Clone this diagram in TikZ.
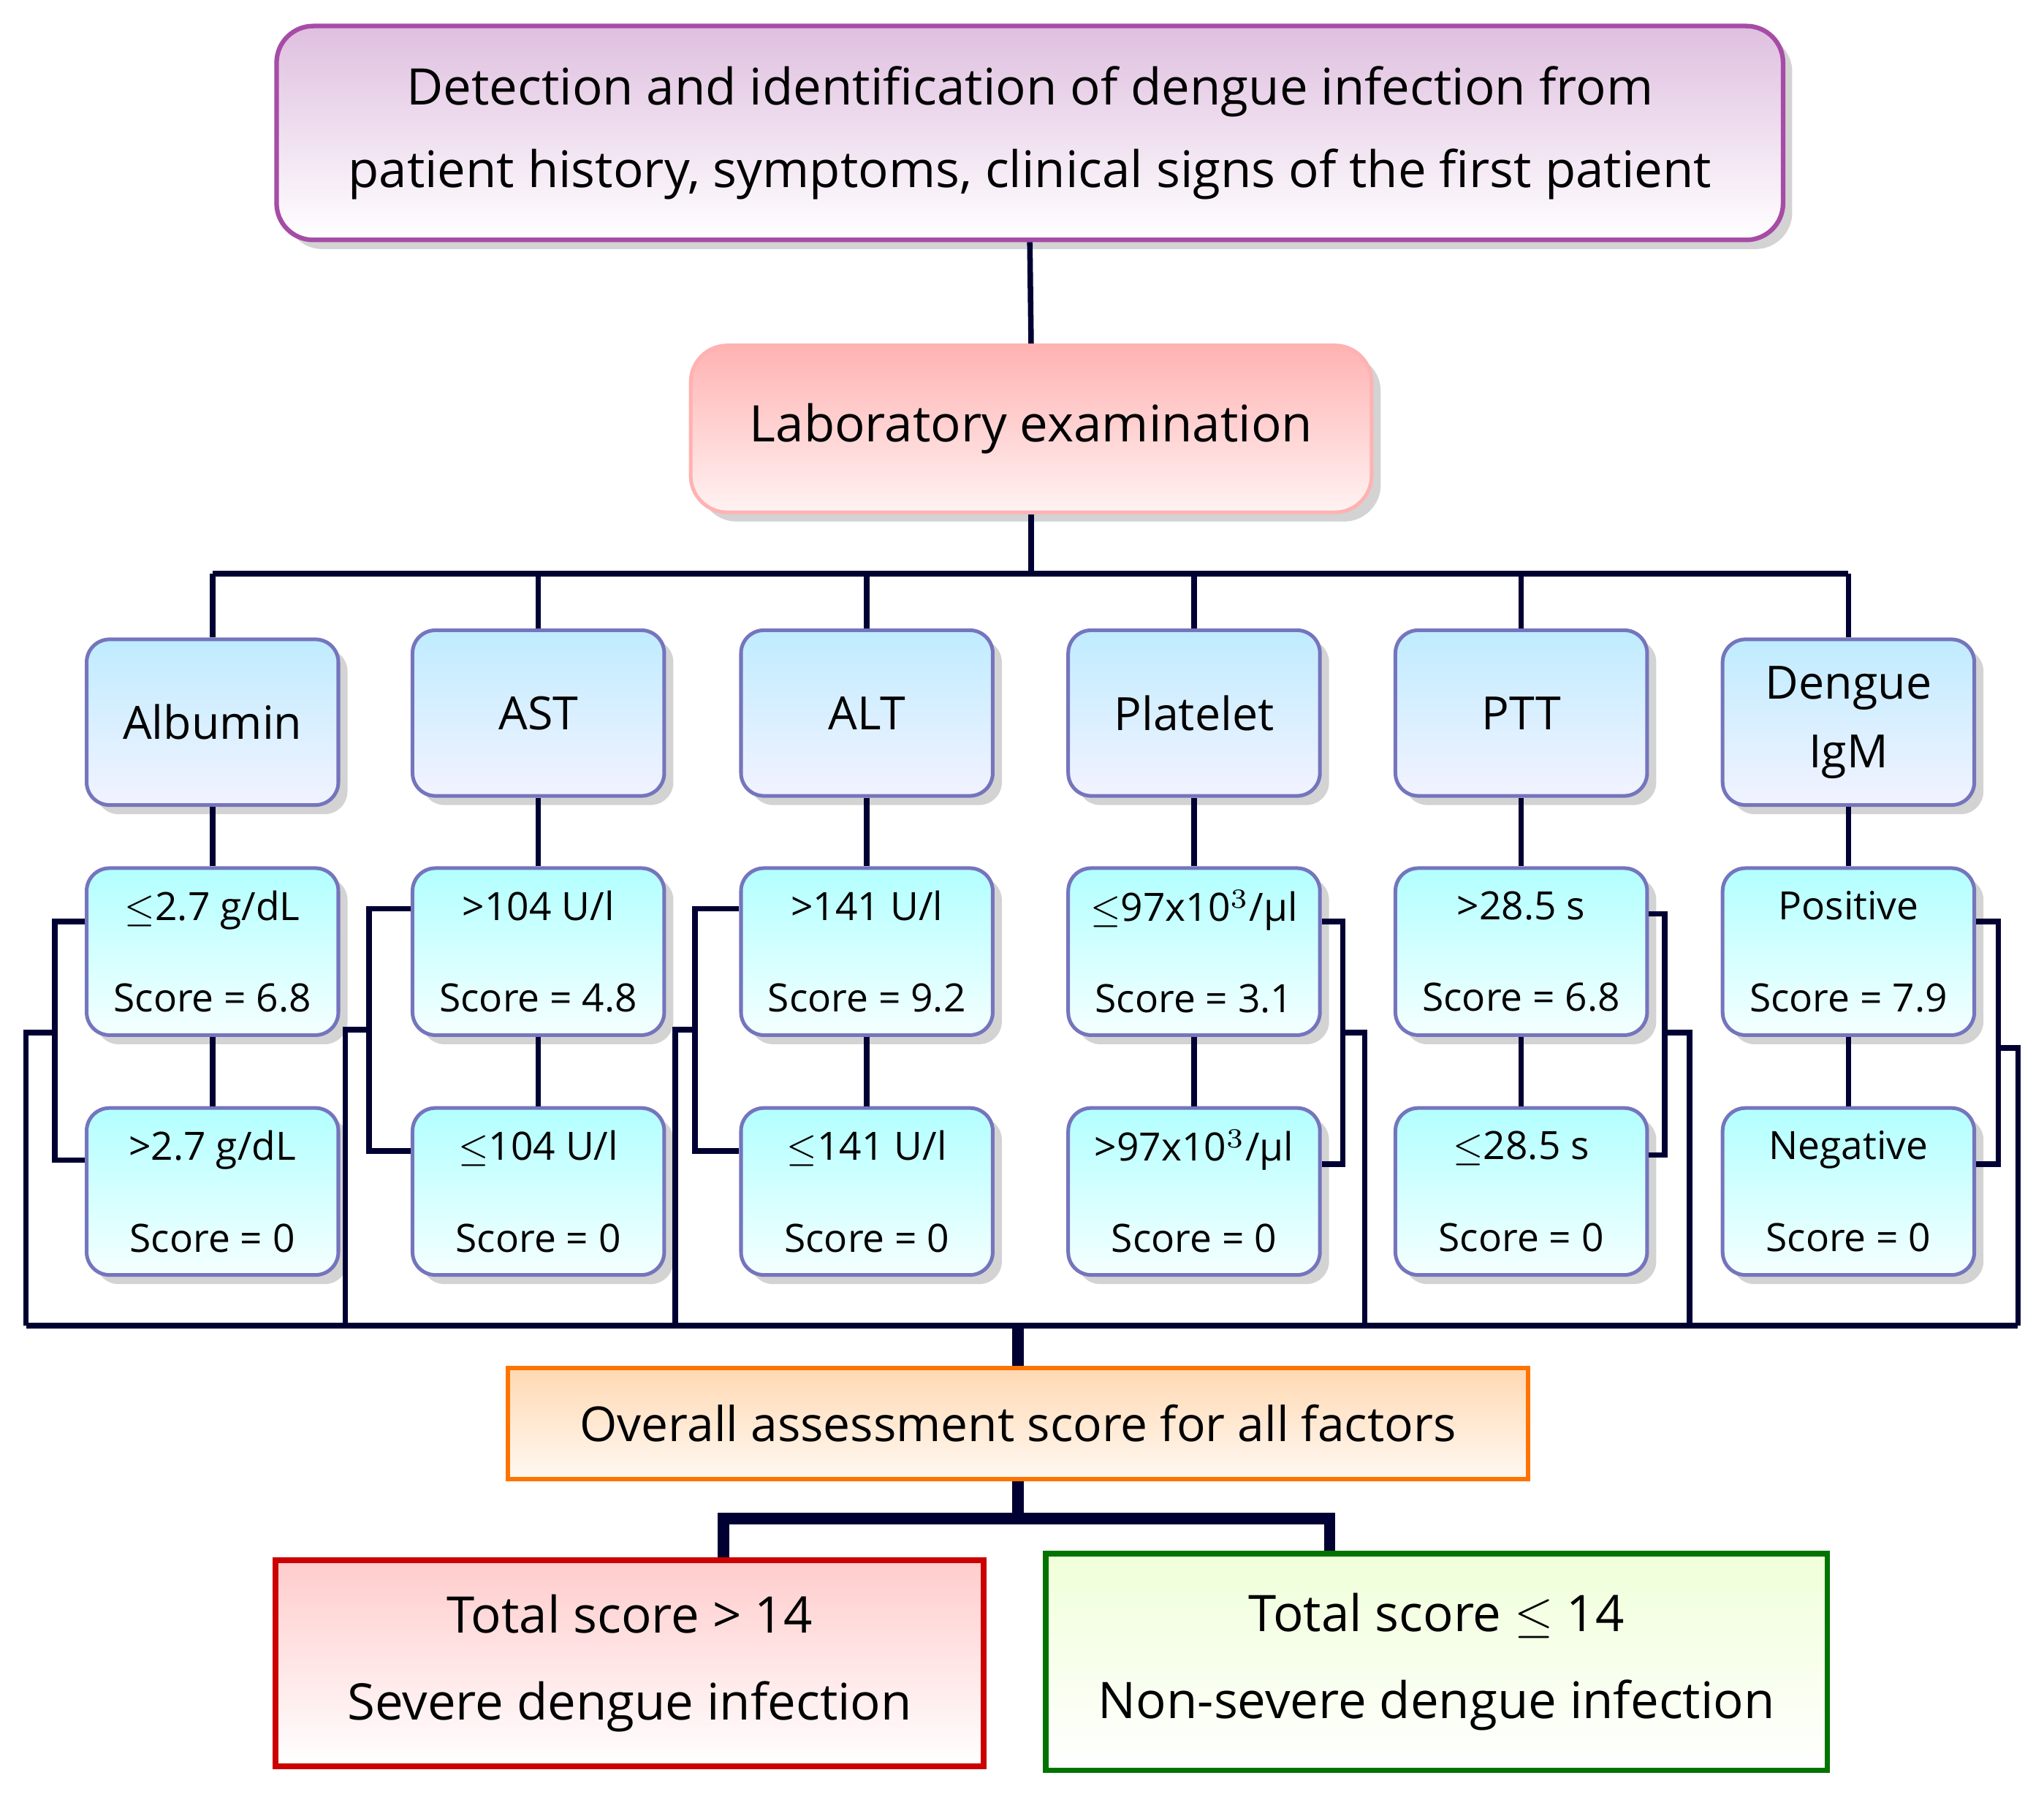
\documentclass[tikz,border=0pt]{standalone}
\usepackage{fontspec}
\setmainfont{Open Sans}
\usetikzlibrary{shadows}
\begin{document}
\begin{tikzpicture}[x=0.01cm,y=-0.01cm,
 ln/.style={draw=black!80!blue,line width=1.2pt},
 sh/.style={drop shadow={shadow xshift=2pt,shadow yshift=-2pt,opacity=0.35}},
 cat/.style={draw=blue!35!gray!80,line width=0.8pt,rounded corners=5pt,top color=blue!30!cyan!25,bottom color=blue!5,sh,minimum width=1.93cm,minimum height=1.27cm,font=\fontsize{10}{15}\selectfont,align=center,inner sep=0pt},
 val/.style={draw=blue!35!gray!80,line width=0.8pt,rounded corners=5pt,top color=cyan!30,bottom color=cyan!4,sh,minimum width=1.93cm,minimum height=1.28cm,font=\fontsize{8.5}{20}\selectfont,align=center,inner sep=0pt}]
\useasboundingbox (0,0) rectangle (1568,1378);
\node[draw=violet!70,line width=1pt,rounded corners=8pt,top color=violet!25,bottom color=white,sh,minimum width=11.55cm,minimum height=1.64cm,align=center,font=\fontsize{11}{18}\selectfont] (t) at (790,102) {Detection and identification of dengue infection from\\patient history, symptoms, clinical signs of the first patient};
\node[draw=red!30,line width=0.8pt,rounded corners=8pt,top color=red!30,bottom color=red!5,sh,minimum width=5.22cm,minimum height=1.28cm,font=\fontsize{11}{14}\selectfont] (lab) at (791,329) {Laboratory examination};
\draw[ln] (t.south) -- (lab.north);
\coordinate (j) at (791,440);
\draw[ln] (lab.south) -- (j);
\draw[ln] (163,440) -- (1418,440);
\foreach \x/\y/\n/\t/\a/\b/\c/\d in {
 163/554/c1/Albumin/{$\leq$2.7 g/dL}/{Score = 6.8}/{>2.7 g/dL}/{Score = 0},
 413/547/c2/AST/{>104 U/l}/{Score = 4.8}/{$\leq$104 U/l}/{Score = 0},
 665/547/c3/ALT/{>141 U/l}/{Score = 9.2}/{$\leq$141 U/l}/{Score = 0},
 916/547/c4/Platelet/{$\leq$97x10$^3$/µl}/{Score = 3.1}/{>97x10$^3$/µl}/{Score = 0},
 1167/547/c5/PTT/{>28.5 s}/{Score = 6.8}/{$\leq$28.5 s}/{Score = 0},
 1418/554/c6/{Dengue\\IgM}/{Positive}/{Score = 7.9}/{Negative}/{Score = 0}}{
 \node[cat] (\n) at (\x,\y) {\t};
 \node[val] (\n u) at (\x,730) {\a\\\b};
 \node[val] (\n l) at (\x,914) {\c\\\d};
 \draw[ln] (\x,440) -- (\n.north);
 \draw[ln] (\n.south) -- (\n u.north);
 \draw[ln] (\n u.south) -- (\n l.north);
}
\tikzset{br/.style={draw=black!80!blue,line width=1.2pt}}
\draw[br] (c1u.west|-0,707) -- (42,707) -- (42,890) -- (c1l.west|-0,890);
\draw[br] (42,792) -- (20,792) -- (20,1017);
\draw[br] (c2u.west|-0,697) -- (283,697) -- (283,883) -- (c2l.west|-0,883);
\draw[br] (283,790) -- (265,790) -- (265,1017);
\draw[br] (c3u.west|-0,697) -- (533,697) -- (533,883) -- (c3l.west|-0,883);
\draw[br] (533,790) -- (518,790) -- (518,1017);
\draw[br] (c4u.east|-0,707) -- (1030,707) -- (1030,893) -- (c4l.east|-0,893);
\draw[br] (1030,792) -- (1047,792) -- (1047,1017);
\draw[br] (c5u.east|-0,701) -- (1277,701) -- (1277,886) -- (c5l.east|-0,886);
\draw[br] (1277,792) -- (1296,792) -- (1296,1017);
\draw[br] (c6u.east|-0,707) -- (1533,707) -- (1533,893) -- (c6l.east|-0,893);
\draw[br] (1533,804) -- (1548,804) -- (1548,1017);
\draw[br] (20,1017) -- (1548,1017);
\node[draw=orange!90!red,line width=1pt,top color=orange!30,bottom color=orange!5,minimum width=7.82cm,minimum height=0.85cm,font=\fontsize{10.5}{14}\selectfont] (o) at (781,1092) {Overall assessment score for all factors};
\draw[line width=2.5pt,draw=black!80!blue] (781,1017) -- (o.north);
\node[draw=red!80!black,line width=1.2pt,top color=red!20,bottom color=white,minimum width=5.43cm,minimum height=1.58cm,align=center,font=\fontsize{11}{19}\selectfont] (r) at (483,1276) {Total score > 14\\Severe dengue infection};
\node[draw=green!45!black,line width=1.2pt,top color=green!20!lime!15,bottom color=white,minimum width=5.99cm,minimum height=1.66cm,align=center,font=\fontsize{11}{19}\selectfont] (g) at (1102,1275) {Total score $\leq$ 14\\Non-severe dengue infection};
\draw[line width=2.5pt,draw=black!80!blue] (o.south) -- (781,1165);
\draw[line width=2.5pt,draw=black!80!blue] (r.north-|555,0) -- (555,1165) -- (1020,1165) -- (g.north-|1020,0);
\end{tikzpicture}
\end{document}
